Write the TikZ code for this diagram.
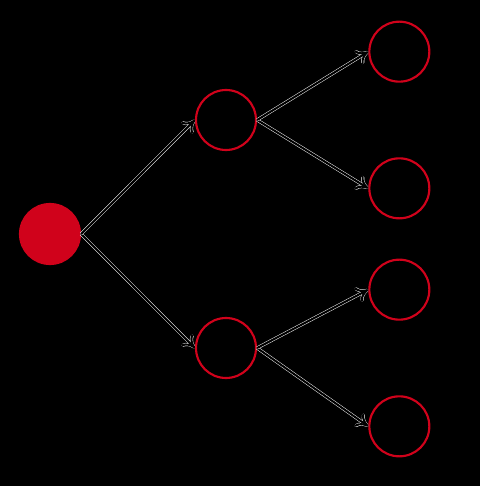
\documentclass[tikz,border=0pt]{standalone}
\usetikzlibrary{arrows.meta}
\definecolor{nodered}{HTML}{D0021B}
\tikzset{
  leafnode/.style={circle, draw=nodered, line width=1.6pt, fill=black,
    minimum size=45pt, inner sep=0pt},
  rootnode/.style={leafnode, fill=nodered},
  link/.style={-{To[length=9pt,width=12pt]}, draw=black, line width=1.6pt,
    preaction={draw=white, line width=2.3pt}}
}

\begin{document}
\begin{tikzpicture}[
  grow=right,
  level 1/.style={level distance=132pt, sibling distance=171pt},
  level 2/.style={level distance=130pt, sibling distance=102.5pt},
  edge from parent/.style={link},
  edge from parent path={(\tikzparentnode.east) -- (\tikzchildnode.west)}
]
\fill[black] (0,0) rectangle (360pt,364.5pt);
\useasboundingbox (0,0) rectangle (360pt,364.5pt);
\node[rootnode] (root) at (37.5pt,189pt) {}
  child { node[leafnode] (low) {}
    child { node[leafnode, yshift=-7.5pt] (lowlow) {} }
    child { node[leafnode, yshift=-7.5pt] (lowup) {} }
  }
  child { node[leafnode] (up) {}
    child { node[leafnode] (uplow) {} }
    child { node[leafnode] (upup) {} }
  };
\end{tikzpicture}
\end{document}
